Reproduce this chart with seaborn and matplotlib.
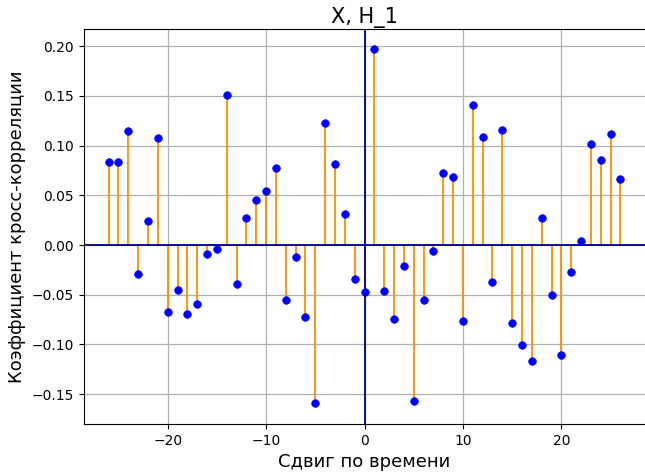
import matplotlib
matplotlib.use('Agg')

import matplotlib.pyplot as plt
import seaborn as sns
import pandas as pd
import numpy as np

# lags and cross-correlation values
lags = list(range(-26, 27))
ccf = [0.084, 0.084, 0.115, -0.029, 0.024, 0.108, -0.067, -0.045, -0.069, -0.059,
       -0.009, -0.004, 0.151, -0.039, 0.027, 0.045, 0.054, 0.077, -0.055, -0.012,
       -0.072, -0.159, 0.123, 0.081, 0.031, -0.034, -0.047, 0.197, -0.046, -0.074,
       -0.021, -0.157, -0.055, -0.006, 0.072, 0.068, -0.076, 0.141, 0.109, -0.037,
       0.116, -0.078, -0.101, -0.117, 0.027, -0.050, -0.111, -0.027, 0.004, 0.102,
       0.086, 0.112, 0.066]

title = 'X, H_1'
xlabel = 'Сдвиг по времени'
ylabel = 'Коэффициент кросс-корреляции'


def main():
    df = pd.DataFrame({'lag': lags, 'ccf': ccf})

    fig = plt.figure(figsize=(6.45, 4.72), dpi=100)
    ax = fig.add_axes([0.1295, 0.1017, 0.8713, 0.8369])

    ax.vlines(df['lag'], 0, df['ccf'], color='darkorange', linewidth=1.3, zorder=2)
    sns.scatterplot(data=df, x='lag', y='ccf', ax=ax, color='blue', s=30,
                    edgecolor='blue', linewidth=0.5, zorder=3)
    ax.axhline(0, color='navy', linewidth=1.3, zorder=2.5)
    ax.axvline(0, color='navy', linewidth=1.3, zorder=2.5)

    ax.grid(True, color='#b0b0b0', linewidth=0.9)
    ax.set_axisbelow(True)
    ax.set_xlim(-28.55, 28.55)
    ax.set_ylim(-0.180, 0.2173)

    ax.set_title(title, fontsize=15, pad=4)
    ax.set_xlabel(xlabel, fontsize=13)
    ax.set_ylabel(ylabel, fontsize=13)
    ax.tick_params(labelsize=10)

    fig.savefig('out.png', dpi=100)


if __name__ == "__main__":
    main()
